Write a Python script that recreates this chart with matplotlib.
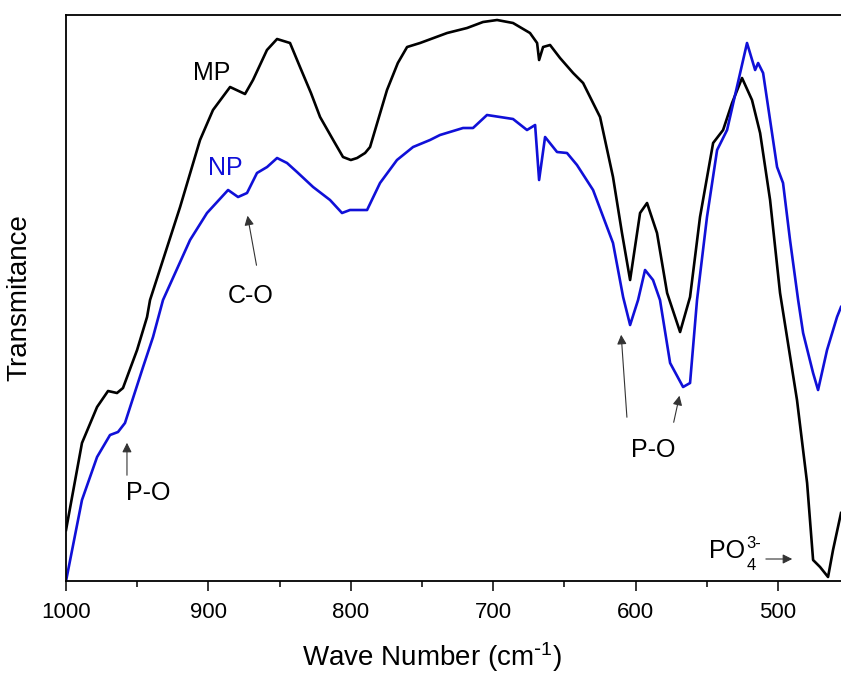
import numpy as np
import matplotlib.pyplot as plt

plt.rcParams['font.family'] = ['Liberation Sans', 'DejaVu Sans']
plt.rcParams['mathtext.default'] = 'regular'

# wave number (cm-1) and transmittance (arbitrary units)
mp_x = [1000.0, 988.8, 978.2, 970.5, 964.2, 960.0, 950.1, 943.1, 941.0, 919.9,
        905.9, 896.8, 884.8, 874.3, 868.7, 858.9, 851.8, 842.7, 835.7, 828.0,
        821.6, 812.0, 805.5, 800.0, 795.6, 790.0, 786.5, 774.6, 767.0, 760.5,
        751.4, 732.4, 718.4, 707.2, 697.3, 686.1, 674.2, 669.2, 667.8, 665.0,
        660.1, 653.1, 643.9, 636.9, 625.0, 615.9, 609.6, 603.9, 596.9, 592.0,
        585.0, 577.9, 568.8, 561.8, 554.8, 545.6, 538.6, 532.3, 525.3, 518.3,
        512.6, 505.6, 498.6, 486.7, 479.6, 475.4, 470.5, 464.9, 461.4, 455.8]
mp_y = [51, 138, 174, 190, 188, 193, 231, 264, 281, 374,
        441, 471, 494, 487, 501, 531, 542, 538, 514, 488,
        464, 440, 424, 421, 423, 428, 434, 491, 518, 534,
        538, 548, 553, 559, 561, 558, 548, 538, 521, 534,
        536, 523, 508, 498, 464, 404, 348, 301, 368, 378,
        348, 288, 249, 284, 364, 438, 451, 478, 503, 481,
        448, 381, 288, 181, 98, 21, 14, 4, 31, 68]

np_x = [1000.0, 988.8, 978.2, 969.1, 963.5, 958.6, 945.9, 938.9, 931.9, 912.9,
        901.0, 886.2, 879.2, 872.9, 865.9, 858.8, 851.8, 844.8, 837.8, 826.5,
        814.6, 806.2, 800.6, 788.6, 779.5, 767.6, 756.3, 744.4, 737.4, 721.2,
        714.2, 704.4, 695.2, 686.1, 676.3, 670.6, 667.8, 663.6, 655.2, 648.2,
        641.2, 629.9, 615.9, 608.8, 603.9, 598.3, 593.4, 587.8, 582.9, 575.8,
        566.7, 561.8, 556.9, 549.9, 542.8, 535.8, 521.8, 516.1, 514.0, 510.5,
        500.7, 496.5, 491.6, 485.9, 482.4, 475.4, 471.9, 465.6, 458.6, 455.8]
np_y = [0, 81, 124, 146, 149, 158, 214, 244, 281, 341,
        368, 391, 384, 388, 408, 414, 423, 418, 409, 394,
        381, 368, 371, 371, 398, 421, 434, 441, 446, 453,
        453, 466, 464, 462, 451, 456, 401, 444, 429, 428,
        416, 391, 338, 284, 256, 281, 311, 301, 281, 218,
        194, 198, 281, 364, 431, 451, 538, 511, 518, 508,
        414, 398, 341, 281, 248, 208, 191, 231, 264, 274]

xticks = [1000, 900, 800, 700, 600, 500]


def main():
    fig = plt.figure(figsize=(8.41, 6.73), dpi=100)
    ax = fig.add_axes([0.0785, 0.1367, 0.9215, 0.841])

    ax.plot(mp_x, mp_y, color='black', lw=1.9)
    ax.plot(np_x, np_y, color='#1010d8', lw=1.9)

    ax.set_xlim(1000, 455.8)
    ax.set_ylim(0, 566)
    ax.set_xticks(xticks)
    ax.set_xticks(np.arange(950, 455, -100), minor=True)
    ax.set_yticks([])
    ax.tick_params(axis='x', which='major', direction='out', length=7, width=1.1,
                   labelsize=16, pad=8)
    ax.tick_params(axis='x', which='minor', direction='out', length=4, width=1.1)
    for s in ['left', 'top', 'bottom']:
        ax.spines[s].set_linewidth(1.3)
    ax.spines['right'].set_visible(False)

    ax.set_xlabel(r'Wave Number (cm$^{\text{-}1}$)', fontsize=20)
    ax.set_ylabel('Transmitance', fontsize=20)
    ax.xaxis.set_label_coords(0.472, -0.105)
    ax.yaxis.set_label_coords(-0.043, 0.5)

    ax.text(897.5, 508, 'MP', fontsize=18, ha='center', va='center', color='black')
    ax.text(888.3, 413, 'NP', fontsize=18, ha='center', va='center', color='#1010d8')

    arrow = dict(arrowstyle='-|>', color='#333333', lw=0.8, mutation_scale=14)
    ax.text(870.1, 285, 'C-O', fontsize=18, ha='center', va='center')
    ax.annotate('', xy=(872.9, 368), xytext=(865.9, 313), arrowprops=arrow)

    ax.text(942.4, 88, 'P-O', fontsize=18, ha='center', va='center')
    ax.annotate('', xy=(957.2, 141), xytext=(957.2, 103), arrowprops=arrow)

    ax.text(587.8, 131, 'P-O', fontsize=18, ha='center', va='center')
    ax.annotate('', xy=(610.3, 249), xytext=(606.0, 161), arrowprops=arrow)
    ax.annotate('', xy=(568.8, 188), xytext=(573.7, 156), arrowprops=arrow)

    ax.text(523.2, 30, 'PO', fontsize=18, ha='right', va='center')
    ax.text(522.0, 38, '3-', fontsize=12, ha='left', va='center')
    ax.text(522.0, 16, '4', fontsize=12, ha='left', va='center')
    ax.annotate('', xy=(488.1, 22), xytext=(510.5, 22), arrowprops=arrow)

    fig.savefig('out.png', dpi=100)


if __name__ == "__main__":
    main()
